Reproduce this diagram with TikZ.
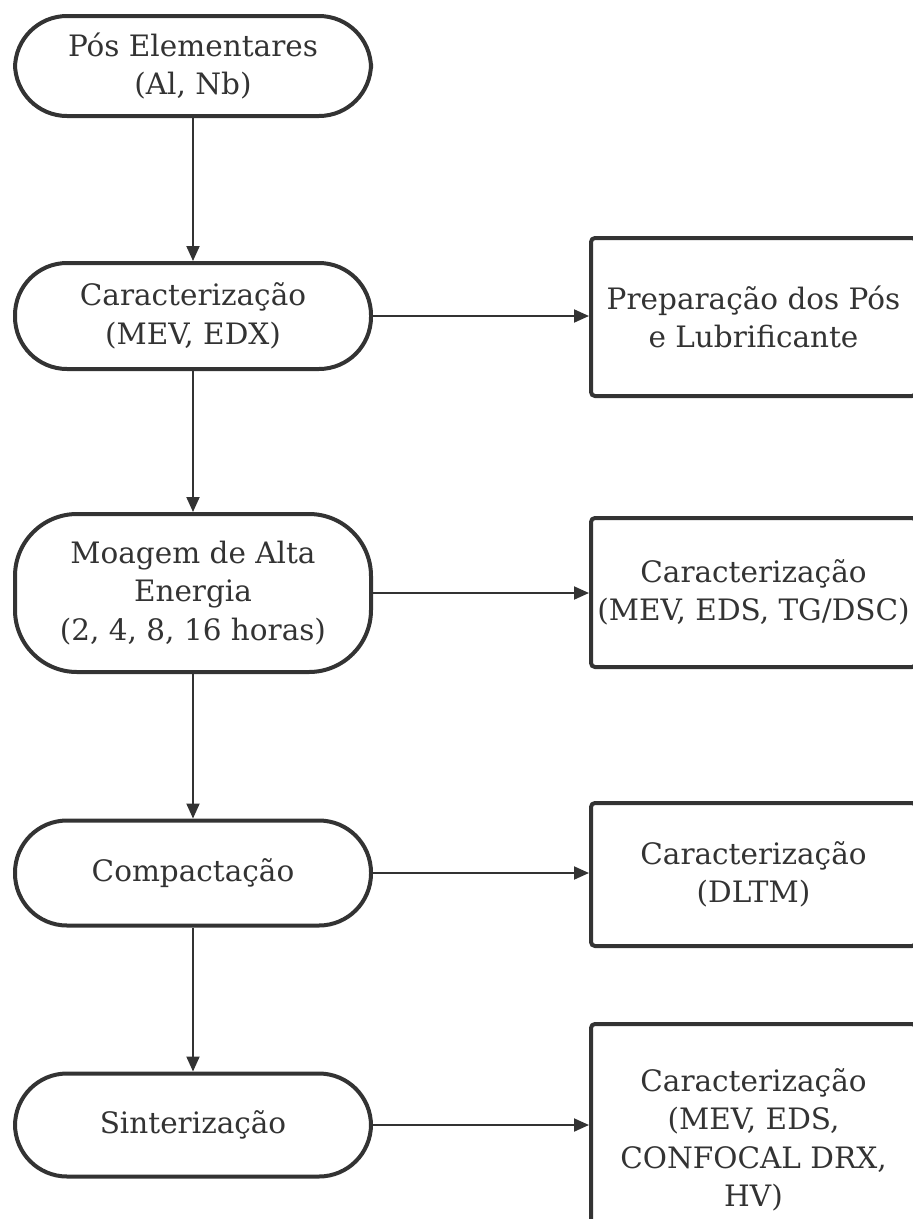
\documentclass[tikz,border=0pt]{standalone}
\usepackage{fontspec}
\setmainfont{DejaVu Serif}
\usetikzlibrary{arrows.meta}
\definecolor{ink}{HTML}{333333}
\tikzset{
  base/.style={draw=ink, line width=4pt, text=ink, align=center, inner sep=0pt,
    font=\fontsize{29.5}{38.5}\selectfont, fill=white},
  stad/.style={base, minimum width=356pt, rounded corners=52pt},
  pbox/.style={base, minimum width=325pt, rounded corners=4pt},
  conn/.style={draw=ink, line width=2pt, -{Triangle[length=15pt,width=13pt]}}
}
\begin{document}
\begin{tikzpicture}[x=1pt,y=-1pt]
\useasboundingbox (0,0) rectangle (913,1219);
\node[stad, minimum height=100pt] (s1) at (193,66) {Pós Elementares\\(Al, Nb)};
\node[stad, minimum height=106pt] (s2) at (193,316) {Caracterização\\(MEV, EDX)};
\node[stad, minimum height=158pt, rounded corners=62pt] (s3) at (193,593) {Moagem de Alta\\Energia\\(2, 4, 8, 16 horas)};
\node[stad, minimum height=105pt] (s4) at (193,873) {Compactação};
\node[stad, minimum height=103pt] (s5) at (193,1125) {Sinterização};
\node[pbox, minimum height=158pt] (b1) at (753.5,317) {Preparação dos Pós\\e Lubrificante};
\node[pbox, minimum height=149pt] (b2) at (753.5,592.5) {Caracterização\\(MEV, EDS, TG/DSC)};
\node[pbox, minimum height=143pt] (b3) at (753.5,874.5) {Caracterização\\(DLTM)};
\node[pbox, minimum height=232pt] (b4) at (753.5,1140) {Caracterização\\(MEV, EDS,\\CONFOCAL DRX,\\HV)};
\draw[conn] (s1.south) -- (s2.north);
\draw[conn] (s2.south) -- (s3.north);
\draw[conn] (s3.south) -- (s4.north);
\draw[conn] (s4.south) -- (s5.north);
\draw[conn] (s2.east) -- (s2.east -| b1.west);
\draw[conn] (s3.east) -- (s3.east -| b2.west);
\draw[conn] (s4.east) -- (s4.east -| b3.west);
\draw[conn] (s5.east) -- (s5.east -| b4.west);
\end{tikzpicture}
\end{document}
